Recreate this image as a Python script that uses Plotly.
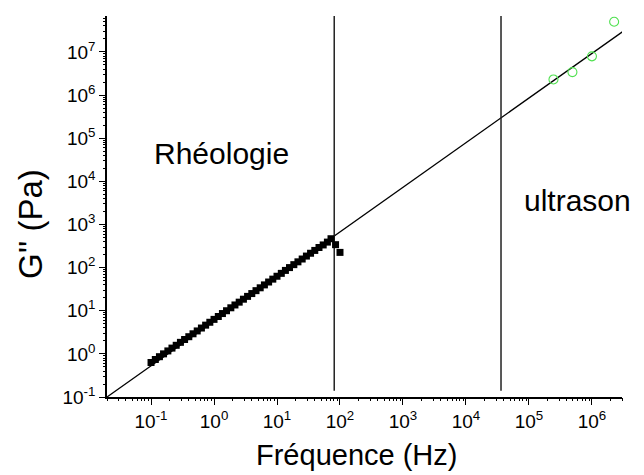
import math
import plotly.graph_objects as go

# Rheology data (black squares)
rheo_freq = [0.1, 0.117, 0.136, 0.158, 0.185, 0.215, 0.251, 0.293, 0.341, 0.398,
             0.464, 0.541, 0.631, 0.736, 0.858, 1.0, 1.17, 1.36, 1.58, 1.85,
             2.15, 2.51, 2.93, 3.41, 3.98, 4.64, 5.41, 6.31, 7.36, 8.58,
             10.0, 11.7, 13.6, 15.8, 18.5, 21.5, 25.1, 29.3, 34.1, 39.8,
             46.4, 54.1, 63.1, 72.0, 85.0, 100.0]
rheo_g2 = [0.63, 0.74, 0.86, 1.0, 1.17, 1.36, 1.58, 1.85, 2.15, 2.5,
           2.92, 3.4, 3.97, 4.63, 5.4, 6.3, 7.35, 8.6, 10.0, 11.7,
           13.6, 15.8, 18.5, 21.5, 25.0, 29.2, 34.0, 39.7, 46.3, 54.0,
           63.0, 73.5, 86.0, 100.0, 117.0, 136.0, 158.0, 185.0, 215.0, 250.0,
           292.0, 335.0, 390.0, 467.0, 340.0, 225.0]

# Ultrasound data (green open circles)
us_freq = [2.45e5, 4.9e5, 1.0e6, 2.25e6]
us_g2 = [2.3e6, 3.4e6, 7.9e6, 5.0e7]

# Power-law guide line endpoints
fit_freq = [0.02, 1.0e7]
fit_g2 = [0.1, 1.0e8]

# Vertical separators (frequency limits)
sep_freqs = [81.0, 3.6e4]
sep_g2 = [0.14, 1.0e8]

# Axis ranges and ticks
x_range = [0.02, 3.0e6]
y_range = [0.1, 6.8e7]
x_tick_vals = [0.1, 1, 10, 100, 1e3, 1e4, 1e5, 1e6]
x_tick_text = ["10<sup>-1</sup>", "10<sup>0</sup>", "10<sup>1</sup>", "10<sup>2</sup>",
               "10<sup>3</sup>", "10<sup>4</sup>", "10<sup>5</sup>", "10<sup>6</sup>"]
y_tick_vals = [0.1, 1, 10, 100, 1e3, 1e4, 1e5, 1e6, 1e7]
y_tick_text = ["10<sup>-1</sup>", "10<sup>0</sup>", "10<sup>1</sup>", "10<sup>2</sup>",
               "10<sup>3</sup>", "10<sup>4</sup>", "10<sup>5</sup>", "10<sup>6</sup>",
               "10<sup>7</sup>"]

labels = ["Rhéologie", "ultrason"]
label_freq = [1.3, 5.85e5]
label_g2 = [4.5e4, 3.6e3]

FONT = "Liberation Sans, Arial, sans-serif"


def minor_vals(lo_exp, hi_exp):
    vals = []
    for e in range(lo_exp, hi_exp + 1):
        for m in range(2, 10):
            vals.append(m * 10.0 ** e)
    return vals


xr = [math.log10(x_range[0]), math.log10(x_range[1])]
yr = [math.log10(y_range[0]), math.log10(y_range[1])]

fig = go.Figure()

fig.add_trace(go.Scatter(x=fit_freq, y=fit_g2, mode="lines",
                         line=dict(color="black", width=1.3), showlegend=False,
                         hoverinfo="skip"))
for f in sep_freqs:
    fig.add_trace(go.Scatter(x=[f, f], y=sep_g2, mode="lines",
                             line=dict(color="#222222", width=1.5), showlegend=False,
                             hoverinfo="skip"))

fig.add_trace(go.Scatter(x=rheo_freq, y=rheo_g2, mode="markers",
                         marker=dict(symbol="square", size=7, color="black",
                                     line=dict(width=0)),
                         showlegend=False))
fig.add_trace(go.Scatter(x=us_freq, y=us_g2, mode="markers",
                         marker=dict(symbol="circle-open", size=9,
                                     color="rgb(80,225,80)", line=dict(width=1.1)),
                         showlegend=False, cliponaxis=False))

# invisible trace carrying the overlay axes used for minor ticks
fig.add_trace(go.Scatter(x=[x_range[0]], y=[y_range[0]], xaxis="x2", yaxis="y2",
                         mode="markers", marker=dict(opacity=0), showlegend=False,
                         hoverinfo="skip"))

for t, fx, gy in zip(labels, label_freq, label_g2):
    fig.add_annotation(x=math.log10(fx), y=math.log10(gy), xref="x", yref="y",
                       text=t, showarrow=False,
                       font=dict(family=FONT, size=30, color="black"))

fig.add_annotation(x=(30 - 107) / 515, y=(397 - 224) / 381, xref="paper", yref="paper",
                   xanchor="center", yanchor="middle",
                   text="G'' (Pa)", textangle=-90, showarrow=False,
                   font=dict(family=FONT, size=33, color="black"))
fig.add_annotation(x=(356 - 107) / 515, y=-(455 - 397) / 381, xref="paper", yref="paper",
                   xanchor="center", yanchor="middle",
                   text="Fréquence (Hz)", showarrow=False,
                   font=dict(family=FONT, size=29, color="black"))

axis_common = dict(showgrid=False, zeroline=False, showline=True, linecolor="black",
                   linewidth=1.5, ticks="outside", ticklen=6, tickwidth=1.3,
                   tickcolor="black", mirror=False, automargin=False,
                   tickfont=dict(family=FONT, size=19, color="black"))

minor_common = dict(type="log", showgrid=False, zeroline=False, showline=False,
                    ticks="outside", ticklen=3, tickwidth=1, tickcolor="black",
                    showticklabels=False, automargin=False)

fig.update_layout(
    xaxis=dict(type="log", range=xr, tickvals=x_tick_vals, ticktext=x_tick_text,
               **axis_common),
    yaxis=dict(type="log", range=yr, tickvals=y_tick_vals, ticktext=y_tick_text,
               **axis_common),
    xaxis2=dict(overlaying="x", anchor="y2", side="bottom", range=xr,
                tickvals=minor_vals(-2, 6), **minor_common),
    yaxis2=dict(overlaying="y", anchor="x2", side="left", range=yr,
                tickvals=minor_vals(-1, 7), **minor_common),
)

# page body adds an 8px offset, so the figure is 8px smaller and shifted back
fig.update_layout(width=636, height=467, margin=dict(l=99, r=22, t=8, b=78),
                  plot_bgcolor="white", paper_bgcolor="white",
                  font=dict(family=FONT, color="black"))

fig.write_html("out.html")
